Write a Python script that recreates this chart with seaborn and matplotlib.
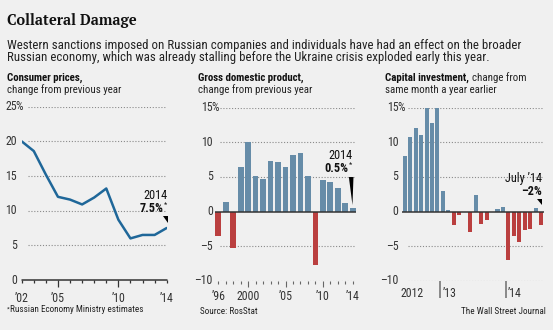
import matplotlib
matplotlib.use("Agg")
import matplotlib.pyplot as plt
from matplotlib import font_manager as fm
from matplotlib.font_manager import FontProperties
from matplotlib.patches import Polygon
from matplotlib.transforms import Affine2D, ScaledTranslation
import numpy as np
import pandas as pd
import seaborn as sns

# ---- data -------------------------------------------------------------
cpi_years = [2002, 2003, 2004, 2005, 2006, 2007, 2008, 2009, 2010, 2011, 2012, 2013, 2014]
cpi_change = [20.0, 18.6, 15.2, 12.0, 11.6, 10.9, 11.9, 13.2, 8.7, 6.0, 6.5, 6.5, 7.5]

gdp_years = [1996, 1997, 1998, 1999, 2000, 2001, 2002, 2003, 2004, 2005,
             2006, 2007, 2008, 2009, 2010, 2011, 2012, 2013, 2014]
gdp_change = [-3.6, 1.4, -5.3, 6.4, 10.0, 5.1, 4.7, 7.3, 7.2, 6.4,
              8.2, 8.5, 5.2, -7.8, 4.5, 4.3, 3.4, 1.3, 0.5]

inv_months = ["2012-06", "2012-07", "2012-08", "2012-09", "2012-10", "2012-11", "2012-12",
              "2013-01", "2013-02", "2013-03", "2013-04", "2013-05", "2013-06",
              "2013-07", "2013-08", "2013-09", "2013-10", "2013-11", "2013-12",
              "2014-01", "2014-02", "2014-03", "2014-04", "2014-05", "2014-06", "2014-07"]
inv_change = [8.0, 10.7, 12.1, 11.0, 16.3, 12.8, 15.3,
              2.9, 0.2, -2.0, -0.5, 0.0, -2.9,
              2.4, -1.8, -1.3, 0.0, 0.4, 0.6,
              -7.0, -3.5, -4.4, -2.7, -2.6, 0.5, -2.0]

cpi_ticks = [0, 5, 10, 15, 20, 25]
bar_ticks = [-10, -5, 0, 5, 10, 15]

# ---- style ------------------------------------------------------------
BG = "#f0f0f0"
BLUE = "#5b8db3"
RED = "#cf2a2a"
LINE = "#1f6799"
INK = "#222222"
GRID = "#8a8a8a"

installed = {f.name for f in fm.fontManager.ttflist}


def first_font(prefs):
    for name in prefs:
        if name in installed:
            return name
    return "DejaVu Sans"


SANS = first_font(["Roboto Condensed", "Archivo Narrow", "PT Sans Narrow", "Fira Sans Condensed",
                   "IBM Plex Sans Condensed", "Barlow Semi Condensed", "Asap Condensed",
                   "Liberation Sans"])
SERIF = first_font(["PT Serif", "Noto Serif", "Liberation Serif"])

sns.set_theme(style="white")
plt.rcParams["font.family"] = [SANS, "DejaVu Sans"]
plt.rcParams["axes.facecolor"] = BG
plt.rcParams["figure.facecolor"] = BG

W, H = 553, 330
fig = plt.figure(figsize=(W / 100, H / 100), dpi=100)
renderer = fig.canvas.get_renderer()


def fit(text, width_px, family=SANS, weight="normal"):
    """Font size (pt) that gives the text the wanted width in pixels."""
    fp = FontProperties(family=family, weight=weight, size=10)
    w, _, _ = renderer.get_text_width_height_descent(text, fp, ismath=False)
    return 10 * width_px / w


def rect(l, t, r, b):
    return [l / W, 1 - b / H, (r - l) / W, (b - t) / H]


def px(x, y):
    return x / W, 1 - y / H


TICK = fit("2000", 23)
CALL = fit("2014", 24)
HEAD = fit("change from previous year", 113)
BODY = fit("Western sanctions imposed on Russian companies and individuals have had an effect on the broader", 509)
FOOT = fit("The Wall Street Journal", 84)

# ---- headings -----------------------------------------------------------
fig.text(*px(7, 21), "Collateral Damage", family=[SERIF], weight="bold",
         fontsize=fit("Collateral Damage", 129, SERIF, "bold"), color="#111",
         va="center", ha="left")
fig.text(*px(7, 45), "Western sanctions imposed on Russian companies and individuals have had an effect on the broader",
         fontsize=BODY, color=INK, va="center")
fig.text(*px(7, 58), "Russian economy, which was already stalling before the Ukraine crisis exploded early this year.",
         fontsize=BODY, color=INK, va="center")


def panel_title(x, bold, rest_first, rest_second):
    t = fig.text(*px(x, 78), bold, fontsize=HEAD, weight="bold", color="#111", va="center")
    if rest_first:
        plt.annotate(rest_first, xy=(1, 0), xycoords=t, xytext=(2.2, 0), textcoords="offset points",
                     fontsize=HEAD, color=INK, va="bottom", ha="left", annotation_clip=False)
    fig.text(*px(x, 90), rest_second, fontsize=HEAD, color=INK, va="center")


def ylabels(ax, ticks, dx, pct_at):
    for v in ticks:
        lab = str(v).replace("-", "\u2013")
        ax.annotate(lab, xy=(0, v), xycoords=ax.get_yaxis_transform(), xytext=(dx, 0),
                    textcoords="offset points", ha="right", va="center",
                    fontsize=TICK, color="#333", annotation_clip=False)
        if v == pct_at:
            ax.annotate("%", xy=(0, v), xycoords=ax.get_yaxis_transform(), xytext=(dx - 0.8, 0),
                        textcoords="offset points", ha="left", va="center",
                        fontsize=TICK, color="#333", annotation_clip=False)


def dotted_grid(ax, ticks, start):
    for v in ticks:
        if v != 0:
            ax.axhline(v, xmin=start, xmax=1, color=GRID, lw=0.8, ls=(0, (1, 1.6)), zorder=0)


def pointer(ax, x, y, verts):
    # vertices are pixel offsets from the data point, y measured downward
    tr = Affine2D().scale(1, -1) + ScaledTranslation(x, y, ax.transData)
    ax.add_patch(Polygon(verts, closed=True, transform=tr, color="black", lw=0, clip_on=False))


def callout(ax, x, y, top, value, dx_top, dy_top, dx_val, dy_val, star=True):
    ax.annotate(top, xy=(x, y), xytext=(dx_top, dy_top), textcoords="offset pixels",
                ha="right", va="center", fontsize=CALL, color="#111", annotation_clip=False)
    t = ax.annotate(value, xy=(x, y), xytext=(dx_val, dy_val), textcoords="offset pixels",
                    ha="right", va="center", fontsize=CALL, weight="bold", color="#111",
                    annotation_clip=False)
    if star:
        ax.annotate("*", xy=(1, 1), xycoords=t, xytext=(0.3, -0.5), textcoords="offset points",
                    ha="left", va="top", fontsize=CALL * 0.6, color="#111", annotation_clip=False)


def clean(ax):
    for s in ax.spines.values():
        s.set_visible(False)
    ax.set_xlabel("")
    ax.set_ylabel("")
    ax.set_yticks([])


# ---- panel 1: consumer prices ----------------------------------------------
panel_title(7, "Consumer prices,", "", "change from previous year")
ax1 = fig.add_axes(rect(21.7, 106.7, 166.7, 280))
sns.lineplot(x=cpi_years, y=cpi_change, ax=ax1, color=LINE, lw=1.8, zorder=3)
ax1.set_xlim(2002, 2014)
ax1.set_ylim(0, 25)
clean(ax1)
dotted_grid(ax1, cpi_ticks, 0.045)
ax1.axhline(0, color="#333", lw=1.1, zorder=2, clip_on=False)
ylabels(ax1, cpi_ticks, -3.4, 25)
ax1.set_xticks([2005, 2010], labels=["\u201905", "\u201910"])
cpi_minor = [y for y in cpi_years if y not in (2005, 2010)]
ax1.set_xticks(cpi_minor,
               labels=["\u201902" if y == 2002 else ("\u201914" if y == 2014 else "")
                       for y in cpi_minor], minor=True)
ax1.tick_params(axis="x", which="major", length=5, width=0.9, color="#333", pad=3.6,
                labelsize=TICK, labelcolor="#333", bottom=True)
ax1.tick_params(axis="x", which="minor", length=2.5, width=0.9, color="#333", pad=6.1,
                labelsize=TICK, labelcolor="#333", bottom=True)
callout(ax1, cpi_years[-1], cpi_change[-1], "2014", f"{cpi_change[-1]}%", 1, 32.5, -3.5, 20)
pointer(ax1, cpi_years[-1], cpi_change[-1], [(-4, -12.5), (1, -12.5), (1, -5.5)])

# ---- panel 2: GDP ------------------------------------------------------------
panel_title(198, "Gross domestic product,", "", "change from previous year")
ax2 = fig.add_axes(rect(214.6, 107.7, 356.4, 280.7))
gdp = pd.DataFrame({"year": gdp_years, "change": gdp_change})
gdp["sign"] = np.where(gdp["change"] < 0, "neg", "pos")
sns.barplot(data=gdp, x="year", y="change", hue="sign", palette={"pos": BLUE, "neg": RED},
            native_scale=True, dodge=False, width=0.76, linewidth=0, legend=False,
            ax=ax2, zorder=2)
ax2.set_xlim(1995.5, 2014.5)
ax2.set_ylim(-10, 15)
clean(ax2)
dotted_grid(ax2, bar_ticks, 0.038)
ax2.axhline(0, color="#333", lw=1.1, zorder=3)
ylabels(ax2, bar_ticks, -1.2, 15)
ax2.set_xticks([2000, 2005, 2010], labels=["2000", "\u201905", "\u201910"])
gdp_minor = [y for y in gdp_years if y not in (2000, 2005, 2010)]
ax2.set_xticks(gdp_minor,
               labels=["\u201996" if y == 1996 else ("\u201914" if y == 2014 else "")
                       for y in gdp_minor], minor=True)
ax2.tick_params(axis="x", which="major", length=4, width=0.8, color="#666", pad=2.6,
                labelsize=TICK, labelcolor="#333", bottom=True)
ax2.tick_params(axis="x", which="minor", length=2, width=0.8, color="#666", pad=4.6,
                labelsize=TICK, labelcolor="#333", bottom=True)
callout(ax2, gdp_years[-1], gdp_change[-1], "2014", f"{gdp_change[-1]}%", 0, 53, -4, 40)
pointer(ax2, gdp_years[-1], gdp_change[-1], [(-3.8, -31), (0.8, -31), (-0.2, -3)])

# ---- panel 3: capital investment -------------------------------------------
panel_title(385, "Capital investment,", "change from", "same month a year earlier")
ax3 = fig.add_axes(rect(402, 107.7, 543.9, 280.7))
inv = pd.DataFrame({"month": pd.PeriodIndex(inv_months, freq="M"), "change": inv_change})
inv["pos"] = np.arange(1, len(inv) + 1)
inv["sign"] = np.where(inv["change"] < 0, "neg", "pos")
sns.barplot(data=inv, x="pos", y="change", hue="sign", palette={"pos": BLUE, "neg": RED},
            native_scale=True, dodge=False, width=0.74, linewidth=0, legend=False,
            ax=ax3, zorder=2)
ax3.set_xlim(0.5, len(inv) + 0.5)
ax3.set_ylim(-10, 15)
clean(ax3)
dotted_grid(ax3, bar_ticks, 0.042)
ax3.axhline(0, color="#333", lw=1.1, zorder=3)
ylabels(ax3, bar_ticks, -2.6, 15)
year_starts = [i + 0.5 for i in range(len(inv)) if inv["month"].iloc[i].month == 1]
ax3.set_xticks(year_starts, labels=[""] * len(year_starts))
ax3.tick_params(axis="x", which="major", length=12.5, width=1.2, color="#777", bottom=True)
xt = ax3.get_xaxis_transform()
for xs in year_starts:
    yr = inv["month"].iloc[int(xs + 0.5) - 1].year
    ax3.annotate(f"\u2019{str(yr)[2:]}", xy=(xs, 0), xycoords=xt, xytext=(1.5, -9),
                 textcoords="offset points", ha="left", va="center", fontsize=TICK,
                 color="#333", annotation_clip=False)
ax3.annotate(str(inv["month"].iloc[0].year), xy=(2.3, 0), xycoords=xt, xytext=(0, -9),
             textcoords="offset points", ha="center", va="center", fontsize=TICK,
             color="#333", annotation_clip=False)
last = inv.iloc[-1]
callout(ax3, last["pos"], 0, f"{last['month'].strftime('%B')} \u2019{last['month'].year % 100}",
        f"\u2013{abs(last['change']):.0f}%", 1, 33, 1, 20, star=False)
pointer(ax3, last["pos"], 0, [(-3.7, -12.7), (1.3, -12.7), (1.3, -6.5)])

# ---- footers ---------------------------------------------------------------
t = fig.text(*px(7, 309), "*", fontsize=FOOT * 0.7, color=INK, va="center")
plt.annotate("Russian Economy Ministry estimates", xy=(1, 0), xycoords=t, xytext=(0.3, -2),
             textcoords="offset points", fontsize=FOOT, color=INK, va="bottom", ha="left",
             annotation_clip=False)
fig.text(*px(200, 311), "Source: RosStat", fontsize=FOOT, color=INK, va="center")
fig.text(*px(546, 311), "The Wall Street Journal", fontsize=FOOT, color=INK, va="center", ha="right")

fig.savefig("out.png", dpi=100, facecolor=BG)
